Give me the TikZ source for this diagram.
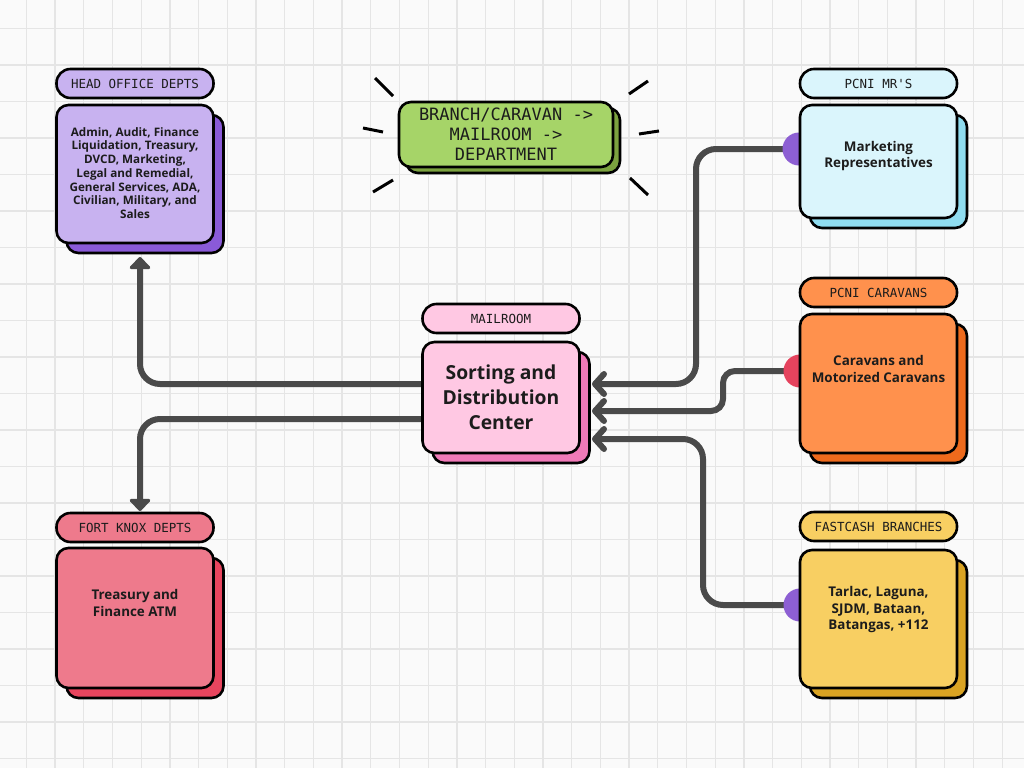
\documentclass[tikz,border=0pt]{standalone}
\usepackage{fontspec}
\setmainfont{Open Sans}
\newfontfamily\tagfont{DejaVu Sans Mono}
\usetikzlibrary{arrows.meta,shadows,backgrounds}

\definecolor{paper}{HTML}{FAFAFA}
\definecolor{gridline}{HTML}{E5E5E5}
\definecolor{wire}{HTML}{4A4A4A}
\definecolor{ink}{HTML}{1C1C1C}
\definecolor{hofill}{HTML}{C8B2F0}
\definecolor{hoshade}{HTML}{8A5AD8}
\definecolor{bnfill}{HTML}{A6D468}
\definecolor{bnshade}{HTML}{7BA23F}
\definecolor{mlfill}{HTML}{FFC8E3}
\definecolor{mlshade}{HTML}{F07AB8}
\definecolor{mrfill}{HTML}{DAF5FC}
\definecolor{mrshade}{HTML}{8FDCEF}
\definecolor{cvfill}{HTML}{FF914D}
\definecolor{cvshade}{HTML}{EE6A1C}
\definecolor{fcfill}{HTML}{F8CF62}
\definecolor{fcshade}{HTML}{D9A323}
\definecolor{fkfill}{HTML}{EE7A8C}
\definecolor{fkshade}{HTML}{E8455E}
\definecolor{dotpurple}{HTML}{8D5FD3}
\definecolor{dotred}{HTML}{E5435E}

\begin{document}
\begin{tikzpicture}[
    x=1pt, y=-1pt,
    tag/.style={draw=black, line width=2.6pt, rounded corners=14pt,
                minimum width=157pt, minimum height=29pt, inner sep=0pt,
                text=ink, font=\tagfont\fontsize{12.5}{14}\selectfont},
    card/.style={draw=black, line width=2.6pt, rounded corners=12pt,
                 minimum width=157pt, inner sep=0pt,
                 copy shadow={shadow xshift=10pt, shadow yshift=-10pt,
                              fill=#1, draw=black, line width=2.6pt}},
    body/.style={text=ink, align=center,
                 font=\bfseries\fontsize{13.4}{16.5}\selectfont},
    dot/.style={circle, inner sep=0pt, minimum size=33pt},
    conn/.style={draw=wire, line width=6pt, rounded corners=20pt},
    chev/.style={-{Straight Barb[length=9pt,width=20pt,round]}},
    tri/.style={-{Triangle[length=13pt,width=24pt,round]}},
    ray/.style={draw=black, line width=3pt}
  ]
  \useasboundingbox (0,0) rectangle (1024,768);

  % paper and grid
  \begin{scope}[on background layer]
    \fill[paper] (0,0) rectangle (1024,768);
    \foreach \i in {0,...,35}
      \draw[gridline, line width=1.3pt] ({26.4+28.7*\i},0) -- ++(0,768);
    \foreach \j in {0,...,21}
      \draw[gridline, line width=1.3pt] (0,{28.5+36.5*\j}) -- ++(1024,0);
  \end{scope}

  % sources on the right
  \node[dot, fill=dotpurple] (mrdot) at (799,149) {};
  \node[dot, fill=dotred]    (cvdot) at (800,371) {};
  \node[dot, fill=dotpurple] (fcdot) at (800,605) {};

  \coordinate (in1)  at (592,384);
  \coordinate (in2)  at (592,411);
  \coordinate (in3)  at (592,439);
  \coordinate (out1) at (422,384);
  \coordinate (out2) at (422,419);
  \coordinate (hoin) at (140,257);
  \coordinate (fkin) at (140,511);

  \begin{scope}[on background layer]
    \draw[conn, chev] (mrdot.center) -- (696,149) -- (696,384) -- (in1);
    \draw[conn, chev, rounded corners=12pt] (cvdot.center) -- (723,371) -- (723,411) -- (in2);
    \draw[conn, chev] (fcdot.center) -- (703,605) -- (703,439) -- (in3);
    \draw[conn, tri] (out1) -- (140,384) -- (hoin);
    \draw[conn, tri] (out2) -- (140,419) -- (fkin);
  \end{scope}

  % banner
  \node[draw=black, line width=2.6pt, rounded corners=12pt, inner sep=0pt,
        fill=bnfill, minimum width=214pt, minimum height=65pt,
        copy shadow={shadow xshift=7pt, shadow yshift=-6pt, fill=bnshade,
                     draw=black, line width=2.6pt},
        align=center, text=ink,
        font=\tagfont\fontsize{17}{20}\selectfont] (banner) at (506,134.5)
        {BRANCH/CARAVAN ->\\MAILROOM ->\\DEPARTMENT};
  \draw[ray] (375,78) -- (393,96);
  \draw[ray] (363,128) -- (383,132);
  \draw[ray] (373,192) -- (393,180);
  \draw[ray] (629,94) -- (648,81);
  \draw[ray] (639,134) -- (659,131);
  \draw[ray] (630,178) -- (648,195);

  % head office
  \node[tag, fill=hofill] (hotag) at (135,83.5) {HEAD OFFICE DEPTS};
  \node[card=hoshade, fill=hofill, minimum height=138pt] (hobox) at (135,174) {};
  \node[body, font=\bfseries\fontsize{11.7}{13.7}\selectfont] (hotext) at (135,173)
    {Admin, Audit, Finance\\Liquidation, Treasury,\\DVCD, Marketing,\\Legal and Remedial,\\General Services, ADA,\\Civilian, Military, and\\Sales};

  % mailroom
  \node[tag, fill=mlfill] (mailtag) at (501,318.5) {MAILROOM};
  \node[card=mlshade, fill=mlfill, minimum height=111pt] (mailbox) at (501,397.5) {};
  \node[body, font=\bfseries\fontsize{19.3}{25}\selectfont] (mailtext) at (501,397)
    {Sorting and\\Distribution\\Center};

  % pcni mr's
  \node[tag, fill=mrfill] (mrtag) at (878.5,83.5) {PCNI MR'S};
  \node[card=mrshade, fill=mrfill, minimum height=113pt] (mrbox) at (878.5,161.5) {};
  \node[body] (mrtext) at (878.5,156) {Marketing\\Representatives};

  % pcni caravans
  \node[tag, fill=cvfill] (cvtag) at (878.5,292.5) {PCNI CARAVANS};
  \node[card=cvshade, fill=cvfill, minimum height=139pt] (cvbox) at (878.5,383.5) {};
  \node[body] (cvtext) at (878.5,369) {Caravans and\\Motorized Caravans};

  % fastcash
  \node[tag, fill=fcfill] (fctag) at (878.5,526.5) {FASTCASH BRANCHES};
  \node[card=fcshade, fill=fcfill, minimum height=138pt] (fcbox) at (878.5,619) {};
  \node[body] (fctext) at (878.5,610) {Tarlac, Laguna,\\SJDM, Bataan,\\Batangas, +112};

  % fort knox
  \node[tag, fill=fkfill] (fktag) at (135,527.5) {FORT KNOX DEPTS};
  \node[card=fkshade, fill=fkfill, minimum height=140pt] (fkbox) at (135,618) {};
  \node[body] (fktext) at (135,603) {Treasury and\\Finance ATM};
\end{tikzpicture}
\end{document}
